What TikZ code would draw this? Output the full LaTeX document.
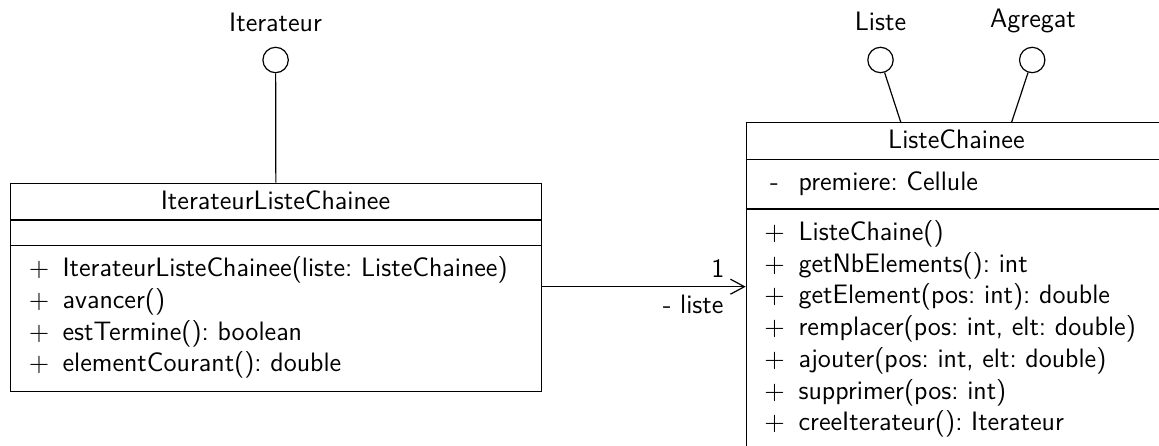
\documentclass[tikz,border=0pt]{standalone}
\usepackage{fontspec}
\usetikzlibrary{arrows.meta}
\frenchspacing
\begin{document}
\begin{tikzpicture}[x=0.41667pt,y=-0.41667pt,
  font=\sffamily\fontsize{11.1}{13}\selectfont,
  line width=0.5pt,
  classbox/.style={draw, anchor=north west, inner sep=0pt},
  iface/.style={draw, circle, inner sep=0pt, minimum size=10.58pt},
  label/.style={inner sep=0pt, anchor=base},
  marker/.style={inner sep=0pt, anchor=base},
  member/.style={inner sep=0pt, anchor=base west},
  assoc/.style={-{Straight Barb[length=5.83pt,width=6.25pt]}}]
\useasboundingbox (0,0) rectangle (1159,446);
\clip (0,0) rectangle (1159,446);

% ---- class IterateurListeChainee ----
\node[classbox, minimum width=221.25pt, minimum height=86.79pt] (ilc) at (10,182.7) {};
\draw (10,220) -- (541,220);
\draw (10,245.3) -- (541,245.3);
\node[label] (ilcName) at (275.5,210) {IterateurListeChainee};
\foreach \t [count=\i] in {IterateurListeChainee(liste: ListeChainee), avancer(),
    estTermine(): boolean, elementCourant(): double} {
  \pgfmathsetmacro\yb{276.7+31.7*(\i-1)}
  \node[marker] (ilcPlus\i) at (39.2,\yb) {$+$};
  \node[member] (ilcOp\i) at (62,\yb) {\t};
}

% ---- class ListeChainee ----
\node[classbox, minimum width=175.54pt, minimum height=137.5pt] (lc) at (745.7,122) {};
\draw (745.7,159.3) -- (1167,159.3);
\draw (745.7,209) -- (1167,209);
\node[label] (lcName) at (956.4,149) {ListeChainee};
\node[marker] (lcMinus) at (774.5,190.5) {-};
\node[member] (lcAttr) at (798,190.5) {premiere: Cellule};
\foreach \t [count=\i] in {ListeChaine(), getNbElements(): int,
    getElement(pos: int): double, {remplacer(pos: int, elt: double)},
    {ajouter(pos: int, elt: double)}, supprimer(pos: int),
    creeIterateur(): Iterateur} {
  \pgfmathsetmacro\yb{240.5+31.7*(\i-1)}
  \node[marker] (lcPlus\i) at (774.5,\yb) {$+$};
  \node[member] (lcOp\i) at (798,\yb) {\t};
}

% ---- provided interfaces (lollipops) ----
\node[iface] (iter) at (275.6,60) {};
\node[label] (iterName) at (275.6,31.5) {Iterateur};
\draw (iter) -- (ilc);

\node[iface] (liste) at (880.5,60) {};
\node[label] (listeName) at (880.5,31) {Liste};
\coordinate (lcListe) at (900.7,122);
\draw (liste) -- (lcListe);

\node[iface] (agreg) at (1032.2,60) {};
\node[label] (agregName) at (1033,27.5) {Agregat};
\coordinate (lcAgreg) at (1011.7,122);
\draw (agreg) -- (lcAgreg);

% ---- association IterateurListeChainee -> ListeChainee ----
\coordinate (assocY) at (0,286.7);
\draw[assoc] (ilc.east |- assocY) -- (lc.west |- assocY);
\node[inner sep=0pt, anchor=base east] (mult) at (725,278) {1};
\node[inner sep=0pt, anchor=base east] (role) at (724,313) {- liste};
\end{tikzpicture}
\end{document}
